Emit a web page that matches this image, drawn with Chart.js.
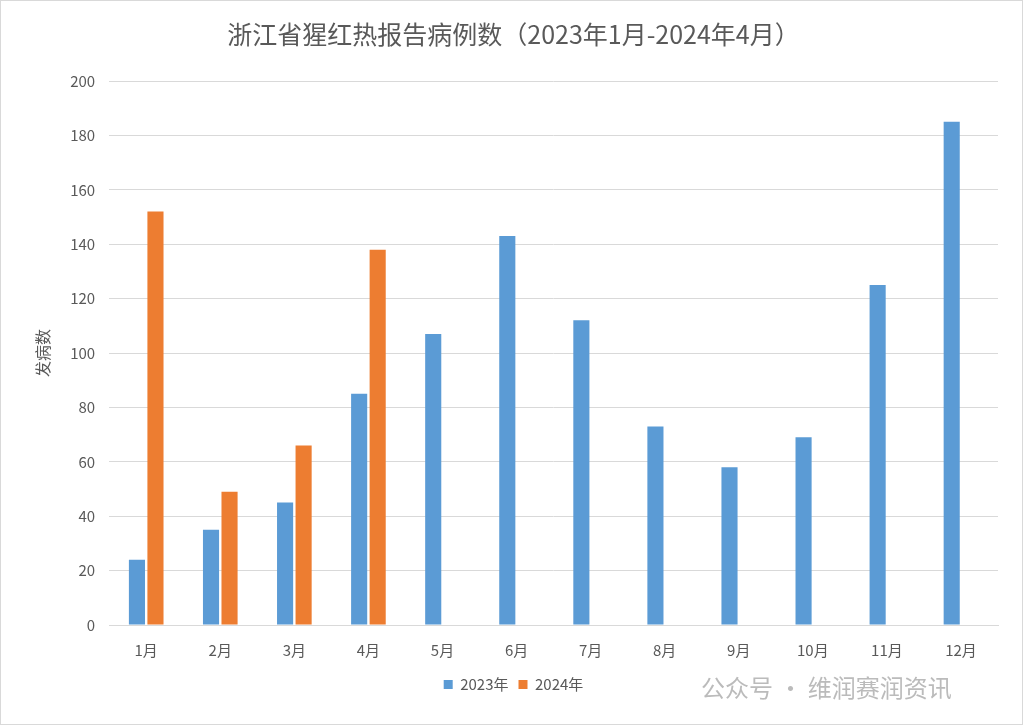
<!DOCTYPE html>
<html>
<head>
<meta charset="utf-8">
<script src="https://cdn.jsdelivr.net/npm/chart.js@4"></script>
<style>
	body { margin: 0; background: #fff; }
	#wrap { position: relative; width: 1021px; height: 723px; border: 1px solid #d9d9d9; }
	#mark { position: absolute; left: 700px; top: 668px; font: 24px "Noto Sans CJK SC"; color: #bbb; }
</style>
</head>
<body>
<div id="wrap">
	<canvas id="chart"></canvas>
	<div id="mark">公众号 · 维润赛润资讯</div>
</div>
<script>
const months = ['1月', '2月', '3月', '4月', '5月', '6月', '7月', '8月', '9月', '10月', '11月', '12月'];
const cases2023 = [24, 35, 45, 85, 107, 143, 112, 73, 58, 69, 125, 185];
const cases2024 = [152, 49, 66, 138];

const font = '"Noto Sans CJK SC", "Noto Sans", sans-serif';

new Chart(document.getElementById('chart'), {
	type: 'bar',
	data: {
		labels: months,
		datasets: [
			{ label: '2023年', data: cases2023, backgroundColor: '#5b9bd5' },
			{ label: '2024年', data: cases2024, backgroundColor: '#ed7d31' }
		]
	},
	options: {
		responsive: true,
		maintainAspectRatio: false,
		animation: false,
		categoryPercentage: 0.5,
		barPercentage: 0.87,
		layout: { padding: { left: 28, right: 24, top: 8, bottom: 22 } },
		plugins: {
			title: {
				display: true,
				text: '浙江省猩红热报告病例数（2023年1月-2024年4月）',
				color: '#595959',
				font: { family: font, size: 25, weight: 'normal' },
				padding: { top: 10, bottom: 32 }
			},
			legend: {
				position: 'bottom',
				labels: { color: '#595959', font: { family: font, size: 15 }, boxWidth: 9, boxHeight: 9, padding: 10 },
				padding: 0
			}
		},
		scales: {
			x: {
				grid: { display: false },
				border: { color: '#d9d9d9' },
				ticks: { color: '#595959', font: { family: font, size: 15 }, padding: 8 }
			},
			y: {
				min: 0,
				max: 200,
				ticks: { stepSize: 20, color: '#595959', font: { family: font, size: 15 }, padding: 14 },
				grid: { color: '#d9d9d9', drawTicks: false },
				border: { display: false },
				title: { display: true, text: '发病数', color: '#595959', font: { family: font, size: 16 } }
			}
		}
	}
});
</script>
</body>
</html>
